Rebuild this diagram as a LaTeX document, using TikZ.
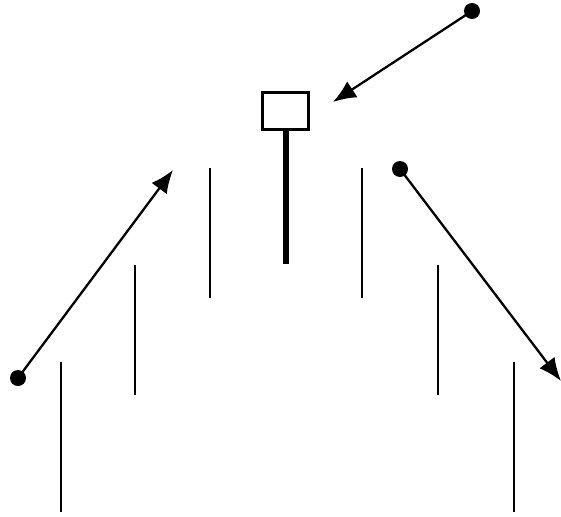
\documentclass[tikz,border=0pt]{standalone}
\usetikzlibrary{arrows.meta}
\begin{document}
\begin{tikzpicture}[x=1pt, y=-1pt, >={Latex[length=23pt,width=19pt]},
  dot/.style={circle, fill, inner sep=0pt, minimum size=16pt},
  bar/.style={line width=2.3pt}]
\useasboundingbox (0,0) rectangle (561,516);
% 1. vertical bars
\foreach \x/\top/\bot in {61/362/512, 135/265/395, 210/168/298,
                          362/168/298, 438/265/395, 514/362/512}
  \draw[bar] (\x,\top) -- (\x,\bot);

% 2. box and its stem
\node[draw, line width=3.3pt, minimum width=46pt, minimum height=37pt, inner sep=0pt] (box) at (285.5,111) {};
\coordinate (stem) at (box.south |- 0,264);
\draw[line width=6pt] (box.south) -- (stem);

% 3. dots
\node[dot] (dot-1) at (18,378) {};
\node[dot] (dot-2) at (472,11)  {};
\node[dot] (dot-3) at (400,169) {};

% 3.1. and where the arrows point
\coordinate (tip-1) at (173,170);
\coordinate (tip-2) at (333,102);
\coordinate (tip-3) at (561,381);
\foreach \i in {1,2,3}
  \draw[->, line width=2.3pt] (dot-\i.center) -- (tip-\i);
\end{tikzpicture}
\end{document}
